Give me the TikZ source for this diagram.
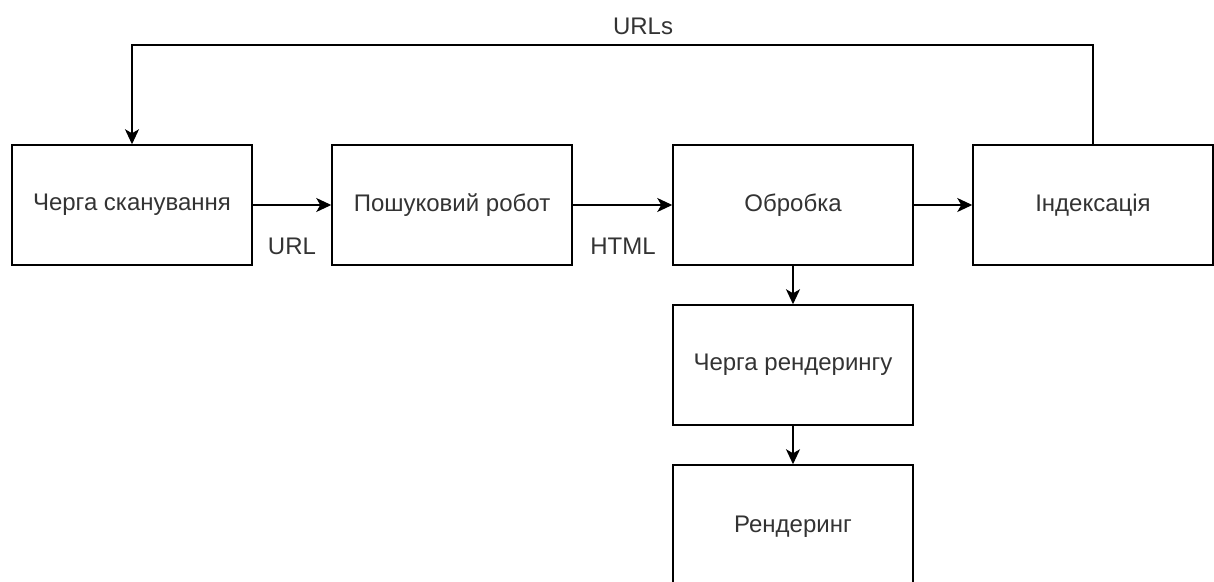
\documentclass[tikz,border=0pt]{standalone}
\usepackage{fontspec}
\setmainfont{Liberation Sans}
\usetikzlibrary{arrows.meta}
\definecolor{txt}{HTML}{333333}
\tikzset{
  box/.style={draw=black, line width=1.5pt, minimum width=240pt, minimum height=120pt, inner sep=0pt, font=\fontsize{24}{28}\selectfont, text=txt},
  lbl/.style={font=\fontsize{24}{28}\selectfont, text=txt, inner sep=0pt},
  conn/.style={line width=1.5pt, -{Stealth[length=15pt,width=14pt,inset=4pt]}}
}
\begin{document}
\begin{tikzpicture}[x=1pt,y=-1pt]
\useasboundingbox (0,0) rectangle (1214,581);
\clip (0,0) rectangle (1214,581);
\node[box] (scan) at (132,205) {Черга сканування};
\node[box] (robot) at (452,205) {Пошуковий робот};
\node[box] (proc) at (793,205) {Обробка};
\node[box] (index) at (1093,205) {Індексація};
\node[box] (rq) at (793,365) {Черга рендерингу};
\node[box, minimum height=120pt] (rend) at (793,525) {};
\node[lbl] (rendt) at (793,527) {Рендеринг};
\coordinate (tr) at (1093,45);
\coordinate (tl) at (132,45);
\draw[conn] (scan) -- (robot);
\draw[conn] (robot) -- (proc);
\draw[conn] (proc) -- (index);
\draw[conn] (proc) -- (rq);
\draw[conn] (rq) -- (rend);
\draw[conn] (index.north) -- (tr) -- (tl) -- (scan.north);
\node[lbl] (lurl) at (292,246) {URL};
\node[lbl] (lhtml) at (623,246) {HTML};
\node[lbl] (lurls) at (643,26) {URLs};
\end{tikzpicture}
\end{document}
